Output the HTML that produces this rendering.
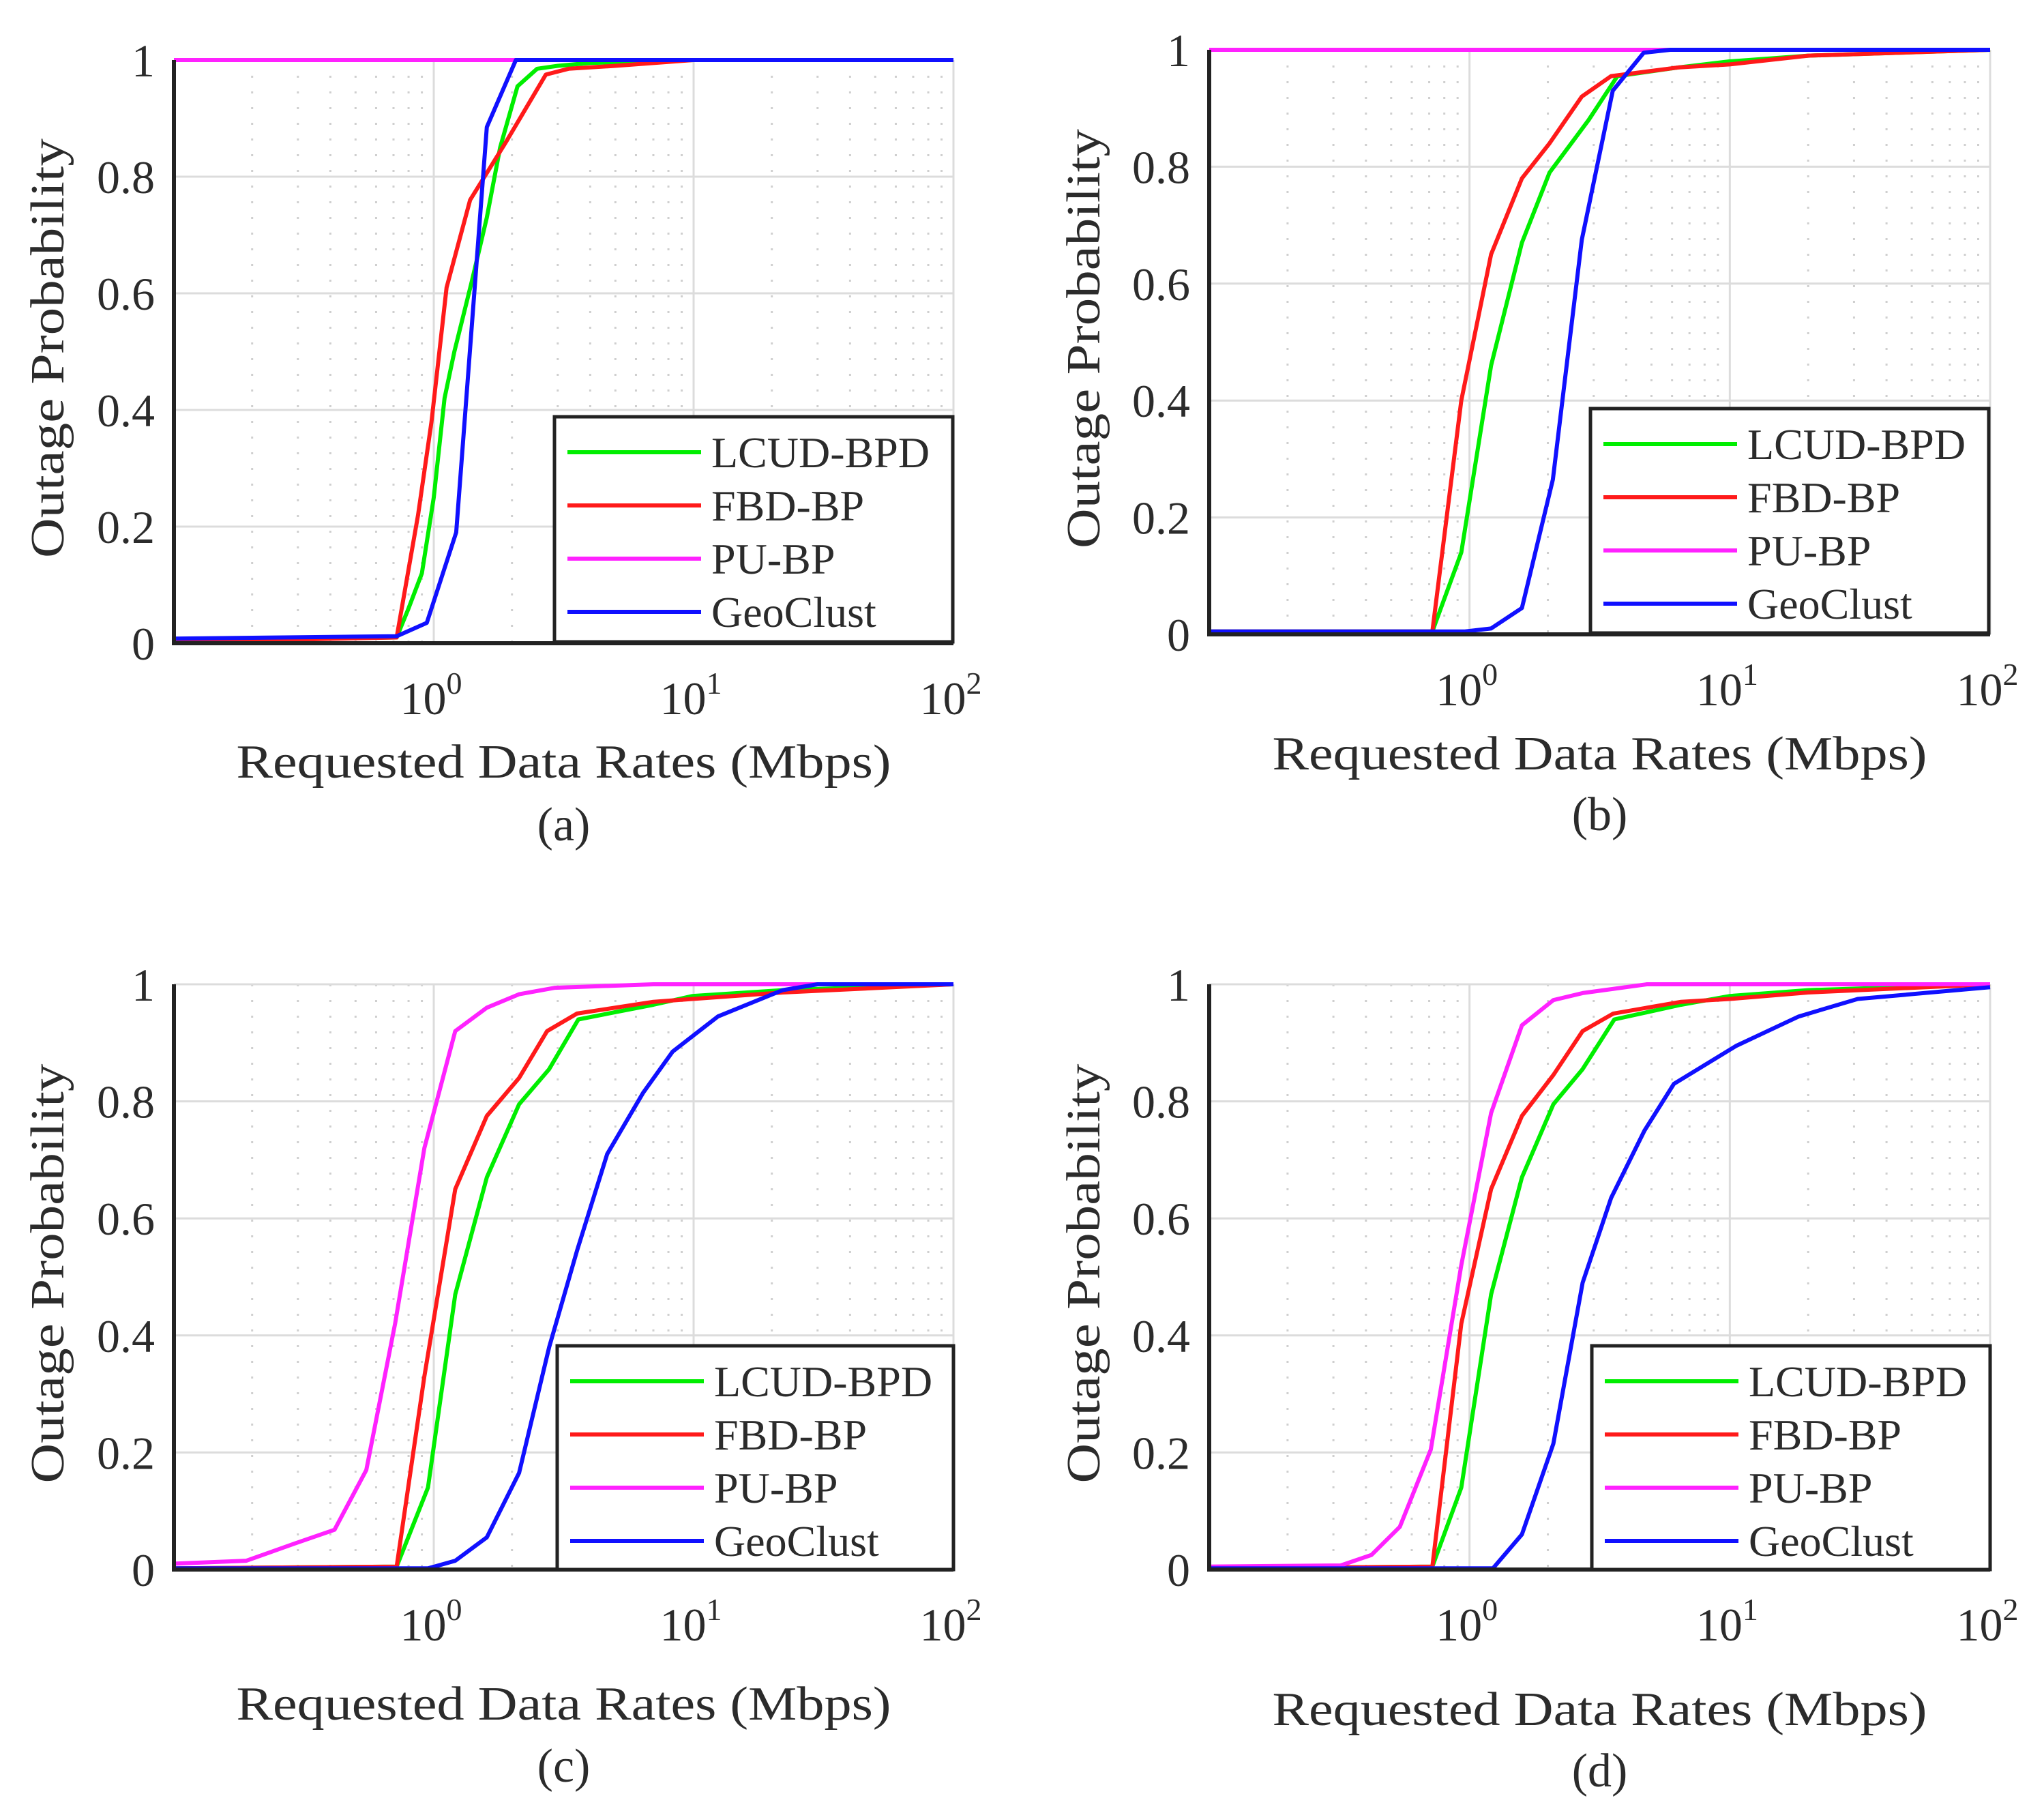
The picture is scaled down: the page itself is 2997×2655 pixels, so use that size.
<!DOCTYPE html>
<html><head><meta charset="utf-8"><style>
body{margin:0;background:#fff}
svg{display:block}
text{font-family:"Liberation Serif","Times New Roman",serif;fill:#2b2b2b}
</style></head><body>
<svg id="fig" width="2997" height="2655" viewBox="0 0 2997 2655" xmlns="http://www.w3.org/2000/svg" font-family="Liberation Serif, serif"></svg>
<script>
// ---- data (x in Mbps, y = outage probability) ----
const seriesNames = ["LCUD-BPD","FBD-BP","PU-BP","GeoClust"];
const seriesColors = ["#00ee00","#ff1a1a","#ff22ff","#1010ff"];
const yTicks = [0,0.2,0.4,0.6,0.8,1];
const yTickLabels = ["0","0.2","0.4","0.6","0.8","1"];
const xDecades = [0,1,2];
const captions = ["(a)","(b)","(c)","(d)"];

// Panel (a)
const aGreenX=[0.1,0.72,0.8,0.9,1.0,1.1,1.2,1.4,1.6,1.8,2.1,2.5,3,4,10,100];
const aGreenY=[0.005,0.01,0.06,0.12,0.25,0.42,0.5,0.62,0.73,0.85,0.955,0.985,0.99,0.995,1,1];
const aRedX=[0.1,0.72,0.87,0.98,1.12,1.38,1.9,2.7,3.3,5,10,100];
const aRedY=[0.002,0.01,0.22,0.38,0.61,0.76,0.86,0.975,0.985,0.99,1,1];
const aPinkX=[0.1,100];
const aPinkY=[1,1];
const aBlueX=[0.1,0.72,0.94,1.22,1.6,2.07,100];
const aBlueY=[0.008,0.012,0.035,0.19,0.885,1,1];
// Panel (b)
const bGreenX=[0.1,0.72,0.93,1.21,1.59,2.03,2.87,3.7,6.4,9.9,20,100];
const bGreenY=[0.005,0.005,0.14,0.46,0.67,0.79,0.88,0.955,0.97,0.98,0.99,1];
const bRedX=[0.1,0.72,0.93,1.21,1.59,2.03,2.7,3.5,6.4,10,20,100];
const bRedY=[0.005,0.005,0.4,0.65,0.78,0.84,0.92,0.955,0.97,0.975,0.99,1];
const bPinkX=[0.1,100];
const bPinkY=[1,1];
const bBlueX=[0.1,0.96,1.21,1.59,2.09,2.7,3.55,4.67,5.9,100];
const bBlueY=[0.005,0.005,0.01,0.045,0.265,0.675,0.93,0.995,1,1];
// Panel (c)
const cGreenX=[0.1,0.72,0.95,1.21,1.6,2.13,2.78,3.6,7,9.9,22,100];
const cGreenY=[0.002,0.005,0.14,0.47,0.67,0.795,0.855,0.94,0.965,0.98,0.99,1];
const cRedX=[0.1,0.72,0.92,1.21,1.6,2.13,2.73,3.56,7,9.9,22,100];
const cRedY=[0.002,0.005,0.33,0.65,0.775,0.84,0.92,0.95,0.97,0.975,0.986,1];
const cPinkX=[0.1,0.19,0.29,0.415,0.55,0.71,0.92,1.21,1.6,2.13,2.93,7,100];
const cPinkY=[0.01,0.015,0.044,0.068,0.17,0.42,0.72,0.92,0.96,0.983,0.994,1,1];
const cBlueX=[0.1,0.95,1.21,1.6,2.13,2.78,3.56,4.65,6.4,8.3,12.4,22,30,100];
const cBlueY=[0.002,0.002,0.015,0.055,0.165,0.38,0.545,0.71,0.815,0.885,0.945,0.99,1,1];
// Panel (d)
const dGreenX=[0.1,0.72,0.93,1.21,1.59,2.1,2.72,3.6,6.5,10,20,100];
const dGreenY=[0.002,0.005,0.14,0.47,0.67,0.795,0.855,0.94,0.965,0.98,0.99,1];
const dRedX=[0.1,0.72,0.93,1.21,1.59,2.1,2.72,3.57,6.5,10,20,100];
const dRedY=[0.002,0.005,0.42,0.65,0.775,0.845,0.92,0.95,0.97,0.975,0.986,1];
const dPinkX=[0.1,0.32,0.42,0.54,0.71,0.93,1.21,1.59,2.1,2.72,4.8,100];
const dPinkY=[0.005,0.007,0.025,0.073,0.205,0.52,0.78,0.93,0.973,0.985,1,1];
const dBlueX=[0.1,1.23,1.59,2.1,2.72,3.5,4.7,6.1,10.6,18.4,31,100];
const dBlueY=[0.002,0.002,0.06,0.215,0.49,0.635,0.75,0.83,0.895,0.945,0.975,0.995];

const panelData=[
 [[aGreenX,aGreenY],[aRedX,aRedY],[aPinkX,aPinkY],[aBlueX,aBlueY]],
 [[bGreenX,bGreenY],[bRedX,bRedY],[bPinkX,bPinkY],[bBlueX,bBlueY]],
 [[cGreenX,cGreenY],[cRedX,cRedY],[cPinkX,cPinkY],[cBlueX,cBlueY]],
 [[dGreenX,dGreenY],[dRedX,dRedY],[dPinkX,dPinkY],[dBlueX,dBlueY]]
];

// ---- layout ----
const layouts=[
 {L:255,R:1398,T:88,B:943,yl:71,xlab:197,cap:289,lg:{x:813,y:611,w:584,h:330}},
 {L:1773,R:2918,T:73,B:930,yl:1590,xlab:198,cap:287,lg:{x:2332,y:599,w:584,h:329}},
 {L:255,R:1398,T:1443,B:2301,yl:71,xlab:220,cap:311,lg:{x:817,y:1973,w:581,h:328}},
 {L:1773,R:2918,T:1443,B:2301,yl:1590,xlab:228,cap:318,lg:{x:2334,y:1973,w:584,h:328}}
];

const NS="http://www.w3.org/2000/svg";
const svg=document.getElementById('fig');
function mk(tag,attrs,parent){const e=document.createElementNS(NS,tag);for(const k in attrs)e.setAttribute(k,attrs[k]);(parent||svg).appendChild(e);return e;}

layouts.forEach((P,pi)=>{
  const g=mk('g',{});
  
  
  const xs=v=>P.L+(Math.log10(v)+1)/3*(P.R-P.L);
  const ys=v=>P.B-v*(P.B-P.T);
  for(let d=-1;d<2;d++){for(let m=2;m<=9;m++){const x=xs(m*Math.pow(10,d));
    const l=mk('line',{x1:x,x2:x,y1:P.T,y2:P.B,stroke:'#cfcfcf','stroke-width':3,'stroke-dasharray':'3 20'},g);
    
    }}
  xDecades.forEach(d=>{const x=xs(Math.pow(10,d));
    const l=mk('line',{x1:x,x2:x,y1:P.T,y2:P.B,stroke:'#dcdcdc','stroke-width':3},g);
    
    });
  yTicks.forEach(v=>{const y=ys(v);
    const l=mk('line',{x1:P.L,x2:P.R,y1:y,y2:y,stroke:'#dcdcdc','stroke-width':3},g);
    
    });
  panelData[pi].forEach((s,si)=>{
    const pts=s[0].map((x,i)=>xs(x).toFixed(1)+','+ys(s[1][i]).toFixed(1)).join(' ');
    const pl=mk('polyline',{points:pts,fill:'none',stroke:seriesColors[si],'stroke-width':6,'stroke-linejoin':'round'},g);
    
    
  });
  const ax=mk('path',{d:`M${P.L},${P.T} V${P.B} H${P.R}`,fill:'none',stroke:'#222','stroke-width':6},g);
  
  
  yTicks.forEach((v,i)=>{
    const t=mk('text',{x:P.L-28,y:ys(v)+24,'font-size':68,'text-anchor':'end','font-family':'Liberation Serif, serif'},g);
    t.textContent=yTickLabels[i];
    
    
  });
  xDecades.forEach(d=>{
    const t=mk('text',{x:xs(Math.pow(10,d))-4,y:P.B+104,'font-size':68,'text-anchor':'middle','font-family':'Liberation Serif, serif'},g);
    
    
    const a=mk('tspan',{},t);a.textContent='10';
    const b=mk('tspan',{dy:-30,'font-size':46},t);b.textContent=String(d);
  });
  const xl=mk('text',{x:(P.L+P.R)/2,y:P.B+P.xlab,'font-size':70,'text-anchor':'middle',textLength:960,lengthAdjust:'spacingAndGlyphs','font-family':'Liberation Serif, serif'},g);
  xl.textContent='Requested Data Rates (Mbps)';
  
  
  const cy=(P.T+P.B)/2-5;
  const yl=mk('text',{x:P.yl,y:cy,'font-size':70,'text-anchor':'middle',transform:`rotate(-90 ${P.yl} ${cy}) translate(0 22)`,textLength:615,lengthAdjust:'spacingAndGlyphs','font-family':'Liberation Serif, serif'},g);
  yl.textContent='Outage Probability';
  
  
  const cp=mk('text',{x:(P.L+P.R)/2,y:P.B+P.cap,'font-size':70,'text-anchor':'middle','font-family':'Liberation Serif, serif'},g);
  cp.textContent=captions[pi];
  
  
  const lg=mk('g',{},g);
  
  
  mk('rect',{x:P.lg.x,y:P.lg.y,width:P.lg.w,height:P.lg.h,fill:'#fff',stroke:'#222','stroke-width':5},lg);
  seriesNames.forEach((n,si)=>{
    const ey=P.lg.y+52+si*78;
    const e=mk('g',{},lg);
    
    
    mk('line',{x1:P.lg.x+19,x2:P.lg.x+215,y1:ey,y2:ey,stroke:seriesColors[si],'stroke-width':6},e);
    const t=mk('text',{x:P.lg.x+230,y:ey+22,'font-size':64,'font-family':'Liberation Serif, serif'},e);
    t.textContent=n;
  });
});
</script>
</body></html>
